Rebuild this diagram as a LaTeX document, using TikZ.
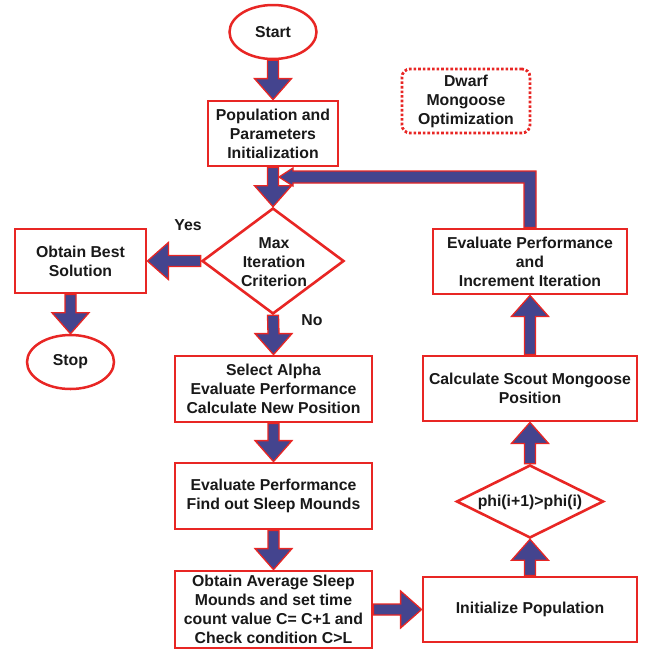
\documentclass[tikz,border=0pt]{standalone}
\usepackage{fontspec}
\setmainfont{Liberation Sans}
\usetikzlibrary{shapes.geometric,calc}
\definecolor{fred}{RGB}{232,38,36}
\definecolor{fblue}{RGB}{68,68,142}
\definecolor{ftext}{RGB}{25,25,25}
\tikzset{
  base/.style={font=\bfseries\fontsize{15.8}{19}\selectfont, align=center, text=ftext},
  box/.style={base, draw=fred, line width=2.8pt, fill=white, rectangle, inner sep=0pt},
  term/.style={base, draw=fred, line width=2.5pt, fill=white, ellipse, inner sep=0pt,
               minimum width=87pt, minimum height=54pt},
  decision/.style={draw=fred, line width=2.6pt, fill=white, diamond, inner sep=0pt},
  lbl/.style={base, inner sep=0pt},
  blk/.style={fill=fblue, draw=fred, line width=1.3pt, line join=miter},
}
% vertical block arrow: #1 from, #2 to (tip), #3 = 1 downwards, -1 upwards
\newcommand\vblk[3]{%
  \path[blk] ([xshift=-5.5pt]#1) -- ([shift={(-5.5pt,{#3*21pt})}]#2)
    -- ([shift={(-18.5pt,{#3*21pt})}]#2) -- (#2)
    -- ([shift={(18.5pt,{#3*21pt})}]#2) -- ([shift={(5.5pt,{#3*21pt})}]#2)
    -- ([xshift=5.5pt]#1) -- cycle;}
% horizontal block arrow: #3 = 1 leftwards, -1 rightwards
\newcommand\hblk[3]{%
  \path[blk] ([yshift=5.5pt]#1) -- ([shift={({#3*21pt},5.5pt)}]#2)
    -- ([shift={({#3*21pt},18.5pt)}]#2) -- (#2)
    -- ([shift={({#3*21pt},-18.5pt)}]#2) -- ([shift={({#3*21pt},-5.5pt)}]#2)
    -- ([yshift=-5.5pt]#1) -- cycle;}
\begin{document}
\begin{tikzpicture}[x=1pt,y=-1pt]
\useasboundingbox (0,0) rectangle (646,649);

% nodes
\node[term] (start) at (273,32) {Start};
\node[box, minimum width=130pt, minimum height=65pt] (pop) at (273,133.5)
  {Population and\\Parameters\\Initialization};
\node[box, draw=fred, dash pattern=on 2.6pt off 2pt, rounded corners=8pt,
      minimum width=128pt, minimum height=64pt] (dmo) at (466,101)
  {Dwarf\\Mongoose\\Optimization};
\node[decision, minimum width=142pt, minimum height=106pt] (max) at (273,261) {};
\node[lbl] (maxtext) at (274,262) {Max\\Iteration\\Criterion};
\node[box, minimum width=131pt, minimum height=64pt] (best) at (80.5,261)
  {Obtain Best\\Solution};
\node[term] (stop) at (70.5,362) {Stop};
\node[box, minimum width=197pt, minimum height=66pt] (sel) at (273.5,389)
  {Select Alpha\\Evaluate Performance\\Calculate New Position};
\node[box, minimum width=197pt, minimum height=66pt] (eval) at (273.5,496)
  {Evaluate Performance\\Find out Sleep Mounds};
\node[box, minimum width=197pt, minimum height=77pt] (avg) at (273.5,609.5)
  {Obtain Average Sleep\\Mounds and set time\\count value C= C+1 and\\Check condition C>L};
\node[box, minimum width=214pt, minimum height=65pt] (init) at (530,609.5)
  {Initialize Population};
\node[decision, minimum width=147pt, minimum height=73pt] (phi) at (530,501.5) {};
\node[lbl] (phitext) at (530,502) {phi(i+1)>phi(i)};
\node[box, minimum width=214pt, minimum height=65pt] (calc) at (530,388.5)
  {Calculate Scout Mongoose\\Position};
\node[box, minimum width=194pt, minimum height=65pt] (ei) at (530,261.5)
  {Evaluate Performance\\and\\Increment Iteration};
\node[lbl] (yes) at (188,225) {Yes};
\node[lbl] (no) at (312,320) {No};

% helper coordinates
\coordinate (fbtip) at (279,177);
\coordinate (bs) at (stop.north |- best.south);
\coordinate (bt) at (best.east |- max.west);

% feedback loop
\path[blk] ([xshift=-6pt]ei.north) -- ($(ei.north|-fbtip)+(-6pt,-6pt)$)
  -- ($(fbtip)+(14pt,-6pt)$) -- ($(fbtip)+(14pt,-9pt)$) -- (fbtip)
  -- ($(fbtip)+(14pt,9pt)$) -- ($(fbtip)+(14pt,6pt)$)
  -- ($(ei.north|-fbtip)+(6pt,6pt)$) -- ([xshift=6pt]ei.north) -- cycle;

% block arrows
\vblk{start.south}{pop.north}{1}
\vblk{pop.south}{max.north}{1}
\hblk{max.west}{bt}{1}
\vblk{bs}{stop.north}{1}
\vblk{max.south}{sel.north}{1}
\vblk{sel.south}{eval.north}{1}
\vblk{eval.south}{avg.north}{1}
\hblk{avg.east}{init.west}{-1}
\vblk{init.north}{phi.south}{-1}
\vblk{phi.north}{calc.south}{-1}
\vblk{calc.north}{ei.south}{-1}
\end{tikzpicture}
\end{document}
